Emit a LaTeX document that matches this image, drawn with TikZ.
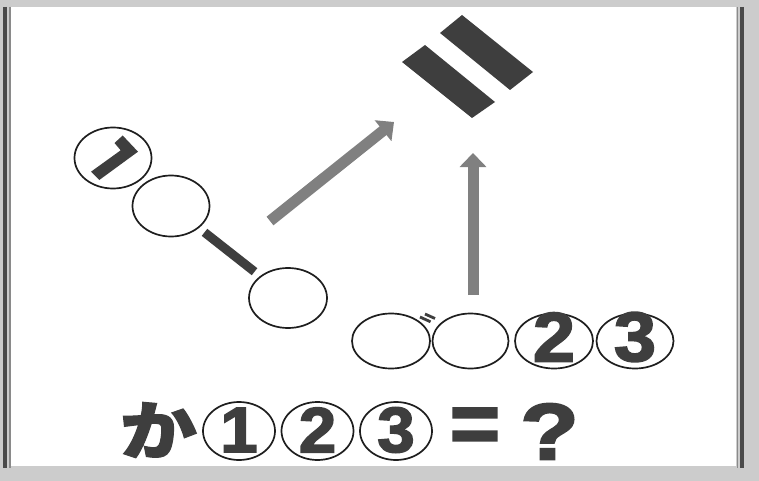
\documentclass[tikz,border=0pt]{standalone}
\usepackage{fontspec}
\newfontfamily\jp{Noto Sans CJK JP}[BoldFeatures={FakeBold=1.6}]
\newfontfamily\latheavy{Liberation Sans Bold}[FakeBold=2.5]
\usetikzlibrary{shapes.geometric,arrows.meta}
\definecolor{bg}{HTML}{CCCCCC}
\definecolor{ink}{HTML}{1E1E1E}
\definecolor{glyph}{HTML}{3E3E3E}
\definecolor{arrowgray}{HTML}{808080}
\definecolor{edgedark}{HTML}{4A4A4A}
\definecolor{edgelight}{HTML}{8A8A8A}
\begin{document}
\begin{tikzpicture}[x=1pt,y=-1pt,
  ring/.style={ellipse,draw=ink,line width=1.7pt,inner sep=0pt,text=glyph},
  bigring/.style={ring,minimum width=78pt,minimum height=55pt},
  chainring/.style={ring,minimum width=77pt,minimum height=61pt},
  textring/.style={ring,minimum width=72pt,minimum height=58pt},
  bigdigit/.style={font=\latheavy\fontsize{70}{70}\selectfont,xscale=1.08,yshift=4pt},
  smalldigit/.style={font=\latheavy\fontsize{64}{64}\selectfont,xscale=1.05,yshift=1pt},
  thickarrow/.style={draw=arrowgray,line width=11pt,-{Triangle[width=26pt,length=14pt]}},
  solidglyph/.style={fill=glyph,draw=none},
  label/.style={text=glyph,inner sep=0pt}]
\useasboundingbox (0,0) rectangle (759,481);
\fill[bg] (0,0) rectangle (759,481);
\fill[white] (11,7) rectangle (736,466);
% frame lines
\draw[edgedark,line width=3.6pt] (4.8,7) -- (4.8,468);
\draw[edgelight,line width=1.6pt] (10,7) -- (10,468);
\draw[edgelight,line width=1.4pt] (737.5,7) -- (737.5,468);
\draw[edgedark,line width=4pt] (742,7) -- (742,468);
% tilted equals sign
\fill[solidglyph] (462,15) -- (533,72) -- (510,90) -- (440,33) -- cycle;
\fill[solidglyph] (425,45) -- (495,102) -- (472,118) -- (402,62) -- cycle;
% chain of circles
\node[chainring] (c1) at (113,158) {};
\node[chainring] (c2) at (171,206) {};
\node[chainring,minimum width=78pt,minimum height=60pt] (c3) at (288,298) {};
\fill[solidglyph] (114.5,143) -- (122.7,135.5) -- (138,151.7) -- (99.3,180) -- (91,171.7) -- (120.7,150.3) -- cycle;
\draw[glyph,line width=9pt,shorten <=7pt,shorten >=7pt] (c2) -- (c3);
% arrows
\coordinate (a1s) at (270,221);
\coordinate (a1e) at (394,122);
\coordinate (a2s) at (473,295);
\coordinate (a2e) at (473,153);
\draw[thickarrow] (a1s) -- (a1e);
\draw[thickarrow] (a2s) -- (a2e);
% bottom row of circles
\node[bigring] (r1) at (391,341) {};
\node[bigring,minimum width=76pt] (r2) at (470.5,341) {};
\node[bigring] (r3) at (554,341) {};
\node[bigdigit,text=glyph,inner sep=0pt] (d2) at (r3.center) {2};
\node[bigring,minimum width=77pt] (r4) at (635,341) {};
\node[bigdigit,text=glyph,inner sep=0pt] (d3) at (r4.center) {3};
\draw[glyph,line width=2.8pt] (425,314) -- (435,318.5);
\draw[glyph,line width=2.8pt] (420,317) -- (430.5,321.8);
% equation
\node[label,font=\jp\bfseries\fontsize{64}{64}\selectfont,xscale=1.2] (ka) at (158.5,430) {か};
\node[textring] (e1) at (239,431) {};
\node[smalldigit,text=glyph,inner sep=0pt] (t1) at (e1.center) {1};
\node[textring] (e2) at (317.5,431) {};
\node[smalldigit,text=glyph,inner sep=0pt] (t2) at (e2.center) {2};
\node[textring] (e3) at (396,431) {};
\node[smalldigit,text=glyph,inner sep=0pt] (t3) at (e3.center) {3};
\node[label,font=\latheavy\fontsize{86}{86}\selectfont] (eq) at (475,430.5) {=};
\node[label,font=\latheavy\fontsize{80}{80}\selectfont,xscale=1.2] (qm) at (549.5,431.5) {?};
\end{tikzpicture}
\end{document}
